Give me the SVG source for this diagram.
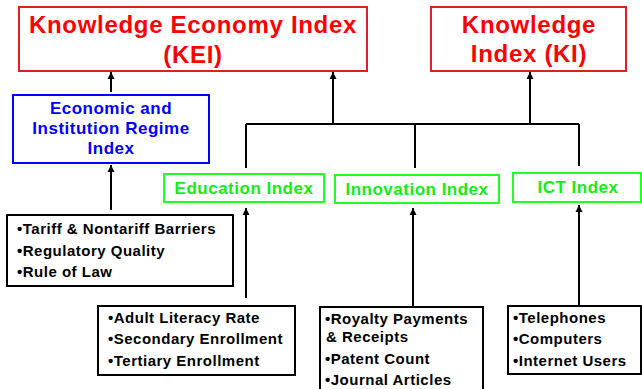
<svg xmlns="http://www.w3.org/2000/svg" width="642" height="389" viewBox="0 0 642 389">
<defs>
<marker id="ah" markerUnits="userSpaceOnUse" markerWidth="8" markerHeight="8" refX="7" refY="4" orient="auto">
<path d="M0,0.5 L7,4 L0,7.5 Z" fill="#000"/>
</marker>
<style>
.red{fill:#fff;stroke:#e02020;stroke-width:2}
.blue{fill:#fff;stroke:#0000ff;stroke-width:2}
.green{fill:#fff;stroke:#22ff22;stroke-width:2}
.blk{fill:#fff;stroke:#000;stroke-width:2}
text{font-family:"Liberation Sans",Arial,sans-serif;font-weight:bold}
.tr{fill:#ff0000;font-size:24px;letter-spacing:0.7px;text-anchor:middle}
.tb{fill:#0000ff;font-size:17px;letter-spacing:0.5px;text-anchor:middle}
.tg{fill:#11ee11;font-size:17px;letter-spacing:0.5px;text-anchor:middle}
.tk{fill:#000;font-size:15px;letter-spacing:0.5px}
.ln{fill:none;stroke:#000;stroke-width:2}
.ar{fill:none;stroke:#000;stroke-width:2;marker-end:url(#ah)}
</style>
</defs>
<g id="connectors">
<path class="ln" d="M246,124 H579 M246,124 V168 M415,124 V168 M579,124 V166"/>
<path class="ar" d="M333,124 V72"/>
<path class="ar" d="M530,124 V72"/>
<path class="ar" d="M111,92 V72"/>
<path class="ar" d="M111,210 V165"/>
<path class="ar" d="M246,298 V208"/>
<path class="ar" d="M413,307 V208"/>
<path class="ar" d="M579,305 V205"/>
</g>
<g id="kei">
<rect class="red" x="19" y="7" width="348" height="64"/>
<text class="tr" x="193" y="33">Knowledge Economy Index</text>
<text class="tr" x="193" y="63">(KEI)</text>
</g>
<g id="ki">
<rect class="red" x="431" y="7" width="195" height="64"/>
<text class="tr" x="529" y="33">Knowledge</text>
<text class="tr" x="529" y="62">Index (KI)</text>
</g>
<g id="eiri">
<rect class="blue" x="13" y="95" width="196" height="68"/>
<text class="tb" x="111" y="114">Economic and</text>
<text class="tb" x="111" y="134">Institution Regime</text>
<text class="tb" x="111" y="154">Index</text>
</g>
<g id="education">
<rect class="green" x="164" y="174" width="160" height="28"/>
<text class="tg" x="244" y="194">Education Index</text>
</g>
<g id="innovation">
<rect class="green" x="335" y="175" width="164" height="28"/>
<text class="tg" x="417" y="195">Innovation Index</text>
</g>
<g id="ict">
<rect class="green" x="513" y="173" width="128" height="29"/>
<text class="tg" x="578" y="193">ICT Index</text>
</g>
<g id="eiri-vars">
<rect class="blk" x="7" y="215" width="226" height="71"/>
<text class="tk" x="17" y="234">•Tariff &amp; Nontariff Barriers</text>
<text class="tk" x="17" y="256">•Regulatory Quality</text>
<text class="tk" x="17" y="277">•Rule of Law</text>
</g>
<g id="education-vars">
<rect class="blk" x="98" y="306" width="197" height="69"/>
<text class="tk" x="108" y="323">•Adult Literacy Rate</text>
<text class="tk" x="108" y="344">•Secondary Enrollment</text>
<text class="tk" x="108" y="366">•Tertiary Enrollment</text>
</g>
<g id="innovation-vars">
<rect class="blk" x="320" y="307" width="163" height="90"/>
<text class="tk" x="325" y="324">•Royalty Payments</text>
<text class="tk" x="326" y="342">&amp; Receipts</text>
<text class="tk" x="325" y="364">•Patent Count</text>
<text class="tk" x="325" y="385">•Journal Articles</text>
</g>
<g id="ict-vars">
<rect class="blk" x="508" y="306" width="133" height="68"/>
<text class="tk" x="513" y="323">•Telephones</text>
<text class="tk" x="513" y="344">•Computers</text>
<text class="tk" x="513" y="366">•Internet Users</text>
</g>
</svg>
